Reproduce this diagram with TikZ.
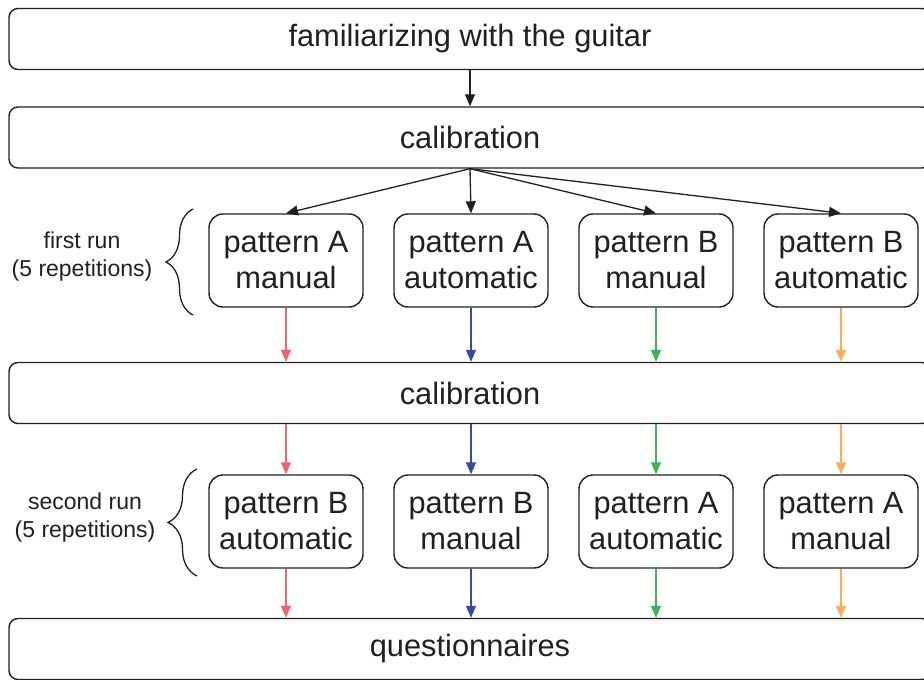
\documentclass[tikz,border=0pt]{standalone}
\usepackage{fontspec}
\setmainfont{Liberation Sans}
\usetikzlibrary{arrows.meta,decorations.pathreplacing}
\definecolor{ink}{HTML}{231F20}
\definecolor{cred}{HTML}{F0656A}
\definecolor{cblue}{HTML}{3A4A9E}
\definecolor{cgreen}{HTML}{3BB55C}
\definecolor{corange}{HTML}{FBAB5E}
\begin{document}
\begin{tikzpicture}[x=1pt,y=-1pt,
  wide/.style={draw=ink, line width=1.4pt, rounded corners=9pt, minimum width=922pt, minimum height=61pt, inner sep=0pt, text=ink, font=\fontsize{30.8}{36}\selectfont},
  small/.style={draw=ink, line width=1.4pt, rounded corners=14pt, minimum width=154pt, minimum height=93pt, inner sep=0pt, align=center, text=ink, font=\fontsize{30.8}{36}\selectfont},
  side/.style={align=center, text=ink, font=\fontsize{23}{28}\selectfont},
  conn/.style={line width=1.3pt, -{Triangle[length=12pt,width=10pt]}},
  brc/.style={draw=ink, line width=1.3pt, decorate},
]
\useasboundingbox (0,0) rectangle (924,680);
\fill[white] (0,0) rectangle (924,680);

\node[wide] (top) at (470,39) {familiarizing with the guitar};
\node[wide] (cal1) at (470,137.5) {calibration};
\node[wide] (cal2) at (470,393) {calibration};
\node[wide] (quest) at (470,649) {questionnaires};

\node[small] (a1) at (286,260.5) {pattern A\\manual};
\node[small] (a2) at (471,260.5) {pattern A\\automatic};
\node[small] (a3) at (656,260.5) {pattern B\\manual};
\node[small] (a4) at (841,260.5) {pattern B\\automatic};

\node[small] (b1) at (286,521.5) {pattern B\\automatic};
\node[small] (b2) at (471,521.5) {pattern B\\manual};
\node[small] (b3) at (656,521.5) {pattern A\\automatic};
\node[small] (b4) at (841,521.5) {pattern A\\manual};

\node[side] (l1) at (82,257) {first run\\(5 repetitions)};
\node[side] (l2) at (85,518) {second run\\(5 repetitions)};

\draw[brc, decoration={brace, amplitude=27pt}] (193,315) -- (193,209);
\draw[brc, decoration={brace, amplitude=29pt}] (197,576) -- (197,469);

\draw[conn, ink] (top.south) -- (cal1.north);
\foreach \n in {a1,a2,a3,a4} \draw[conn, ink] (cal1.south) -- (\n.north);

\foreach \n/\c in {1/cred,2/cblue,3/cgreen,4/corange} {
  \draw[conn, \c] (a\n.south) -- (a\n.south |- cal2.north);
  \draw[conn, \c] (a\n.south |- cal2.south) -- (b\n.north);
  \draw[conn, \c] (b\n.south) -- (b\n.south |- quest.north);
}
\end{tikzpicture}
\end{document}
